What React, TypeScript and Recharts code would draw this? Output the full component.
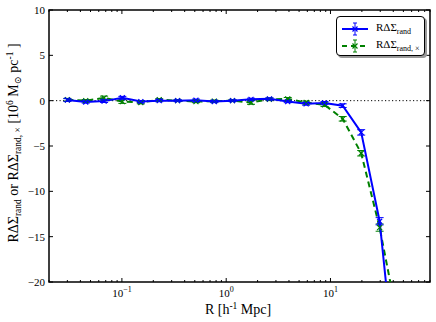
import React from 'react';
import { LineChart, Line, XAxis, YAxis, ErrorBar, ReferenceLine, ReferenceArea } from 'recharts';

// R in h^-1 Mpc, log-spaced bins
const radius = [0.03, 0.045, 0.0675, 0.101, 0.152, 0.228, 0.342, 0.513, 0.769, 1.15, 1.73, 2.6, 3.89, 5.84, 8.76, 13.1, 19.7, 29.6, 44.3];
const randSigma = [0.07, -0.15, -0.05, 0.32, -0.1, 0.0, 0.0, 0.05, -0.1, 0.0, 0.15, 0.2, -0.1, -0.35, -0.25, -0.55, -3.5, -13.3, -32.8];
const randErr = [0.15, 0.12, 0.15, 0.15, 0.12, 0.12, 0.1, 0.12, 0.12, 0.1, 0.12, 0.12, 0.12, 0.15, 0.15, 0.2, 0.3, 0.4, null];
const crossSigma = [0.1, 0.0, 0.3, -0.1, -0.2, 0.1, 0.0, -0.1, -0.05, 0.0, -0.2, 0.15, 0.2, -0.2, -0.45, -2.0, -5.8, -14.0, -24.3];
const crossErr = [0.15, 0.12, 0.2, 0.2, 0.15, 0.12, 0.1, 0.12, 0.12, 0.1, 0.2, 0.12, 0.15, 0.15, 0.2, 0.25, 0.3, 0.4, null];

const xMajor = [0.1, 1, 10];
const xMinor = [0.02, 0.03, 0.04, 0.05, 0.06, 0.07, 0.08, 0.09, 0.2, 0.3, 0.4, 0.5, 0.6, 0.7, 0.8, 0.9, 2, 3, 4, 5, 6, 7, 8, 9, 20, 30, 40, 50, 60, 70, 80, 90];
const yTicks = [-20, -15, -10, -5, 0, 5, 10];

const data = radius.map((r, i) => ({
  r,
  rand: randSigma[i],
  randErr: randErr[i],
  cross: crossSigma[i],
  crossErr: crossErr[i],
}));

const W = 436;
const H = 322;
const LEFT = 49;
const RIGHT = 430;
const TOP = 10;
const BOTTOM = 282;
const FONT = '"Liberation Serif", "DejaVu Serif", serif';
const BLUE = '#0000ff';
const GREEN = '#008000';

const exponent = (v: number) => Math.round(Math.log10(v));

const XTick = (props: any) => {
  const { x, payload } = props;
  const major = xMajor.includes(payload.value);
  const len = major ? 4 : 2;
  const e = exponent(payload.value);
  return (
    <g>
      <line x1={x} x2={x} y1={BOTTOM} y2={BOTTOM - len} stroke="#000" strokeWidth={1} />
      <line x1={x} x2={x} y1={TOP} y2={TOP + len} stroke="#000" strokeWidth={1} />
      {major && (
        <text x={x} y={297} textAnchor="middle" fontFamily={FONT} fontSize={11} fill="#000">
          10<tspan dy={-5} fontSize={8}>{e < 0 ? '\u2212' + Math.abs(e) : e}</tspan>
        </text>
      )}
    </g>
  );
};

const YTick = (props: any) => {
  const { y, payload } = props;
  const v = payload.value;
  return (
    <g>
      <line x1={LEFT} x2={LEFT + 4} y1={y} y2={y} stroke="#000" strokeWidth={1} />
      <line x1={RIGHT - 4} x2={RIGHT} y1={y} y2={y} stroke="#000" strokeWidth={1} />
      <text x={45} y={y + 4} textAnchor="end" fontFamily={FONT} fontSize={11} fill="#000">
        {v < 0 ? '\u2212' + Math.abs(v) : v}
      </text>
    </g>
  );
};

const Cross = (color: string) => (props: any) => {
  const { cx, cy, index } = props;
  if (cx == null || cy == null) return <g key={index} />;
  const s = 2.5;
  return (
    <path
      key={index}
      d={`M${cx - s},${cy - s}L${cx + s},${cy + s}M${cx - s},${cy + s}L${cx + s},${cy - s}`}
      stroke={color}
      strokeWidth={1.2}
      fill="none"
    />
  );
};

const Sigma = ({ sub }: { sub: string }) => (
  <span>
    RΔΣ<sub style={{ fontSize: 8, verticalAlign: -3 }}>{sub}</sub>
  </span>
);

const LegendBox = () => {
  const row = (color: string, dashed: boolean, label: string) => (
    <div style={{ display: 'flex', alignItems: 'center', height: 17 }}>
      <svg width={30} height={14} style={{ marginRight: 6 }}>
        <line x1={2} x2={28} y1={7} y2={7} stroke={color} strokeWidth={2} strokeDasharray={dashed ? '5 4' : undefined} />
        <line x1={15} x2={15} y1={1} y2={13} stroke={color} strokeWidth={1} />
        <line x1={13} x2={17} y1={1} y2={1} stroke={color} strokeWidth={1} />
        <line x1={13} x2={17} y1={13} y2={13} stroke={color} strokeWidth={1} />
        <path d="M12.5,4.5L17.5,9.5M12.5,9.5L17.5,4.5" stroke={color} strokeWidth={1.2} />
      </svg>
      <Sigma sub={label} />
    </div>
  );
  return (
    <div
      style={{
        position: 'absolute',
        left: 336,
        top: 16,
        width: 89,
        height: 40,
        border: '1.5px solid #000',
        borderRadius: 4,
        background: '#fff',
        boxShadow: '2px 2px 0 #999',
        fontFamily: FONT,
        fontSize: 11,
        padding: '3px 0 0 3px',
        boxSizing: 'border-box',
        lineHeight: 1,
      }}
    >
      {row(BLUE, false, 'rand')}
      {row(GREEN, true, 'rand, \u00d7')}
    </div>
  );
};

const YLabel = () => (
  <text
    transform={`translate(18,143) rotate(-90)`}
    textAnchor="middle"
    fontFamily={FONT}
    fontSize={14}
    fill="#000"
  >
    RΔΣ<tspan fontSize={9.5} dy={3}>rand</tspan>
    <tspan dy={-3}> or RΔΣ</tspan>
    <tspan fontSize={9.5} dy={3}>rand, ×</tspan>
    <tspan dy={-3}> [10</tspan>
    <tspan fontSize={9.5} dy={-5}>6</tspan>
    <tspan dy={5}>  M</tspan>
    <tspan fontSize={9.5} dy={3}>⊙</tspan>
    <tspan dy={-3}> pc</tspan>
    <tspan fontSize={9.5} dy={-5}>-1</tspan>
    <tspan dy={5}> ]</tspan>
  </text>
);

const XLabel = () => (
  <text x={238} y={314} textAnchor="middle" fontFamily={FONT} fontSize={14} fill="#000">
    R [h<tspan fontSize={9.5} dy={-5}>-1</tspan>
    <tspan dy={5}>  Mpc]</tspan>
  </text>
);

export default function App() {
  return (
    <div style={{ position: 'absolute', left: 0, top: 0, width: W, height: H, background: '#fff' }}>
      <LineChart width={W} height={H} data={data} margin={{ top: TOP, right: W - RIGHT, bottom: 0, left: 0 }}>
        <XAxis
          dataKey="r"
          type="number"
          scale="log"
          domain={[0.02, 90]}
          allowDataOverflow
          ticks={[...xMinor, ...xMajor].sort((a, b) => a - b)}
          interval={0}
          tick={<XTick />}
          tickLine={false}
          axisLine={false}
          height={H - BOTTOM}
          label={{ content: () => <XLabel /> }}
        />
        <YAxis
          type="number"
          domain={[-20, 10]}
          allowDataOverflow
          ticks={yTicks}
          interval={0}
          tick={<YTick />}
          tickLine={false}
          axisLine={false}
          width={LEFT}
          label={{ content: () => <YLabel /> }}
        />
        <ReferenceArea x1={0.02} x2={90} y1={-20} y2={10} fill="none" stroke="#000" strokeWidth={1.5} ifOverflow="visible" />
        <ReferenceLine y={0} stroke="#000" strokeWidth={1} strokeDasharray="1.2 2.3" />
        <Line
          dataKey="cross"
          stroke={GREEN}
          strokeWidth={2}
          strokeDasharray="6 4"
          dot={Cross(GREEN)}
          activeDot={false}
          isAnimationActive={false}
        >
          <ErrorBar dataKey="crossErr" direction="y" width={4} stroke={GREEN} strokeWidth={1} isAnimationActive={false} />
        </Line>
        <Line
          dataKey="rand"
          stroke={BLUE}
          strokeWidth={2}
          dot={Cross(BLUE)}
          activeDot={false}
          isAnimationActive={false}
        >
          <ErrorBar dataKey="randErr" direction="y" width={4} stroke={BLUE} strokeWidth={1} isAnimationActive={false} />
        </Line>
      </LineChart>
      <LegendBox />
    </div>
  );
}
